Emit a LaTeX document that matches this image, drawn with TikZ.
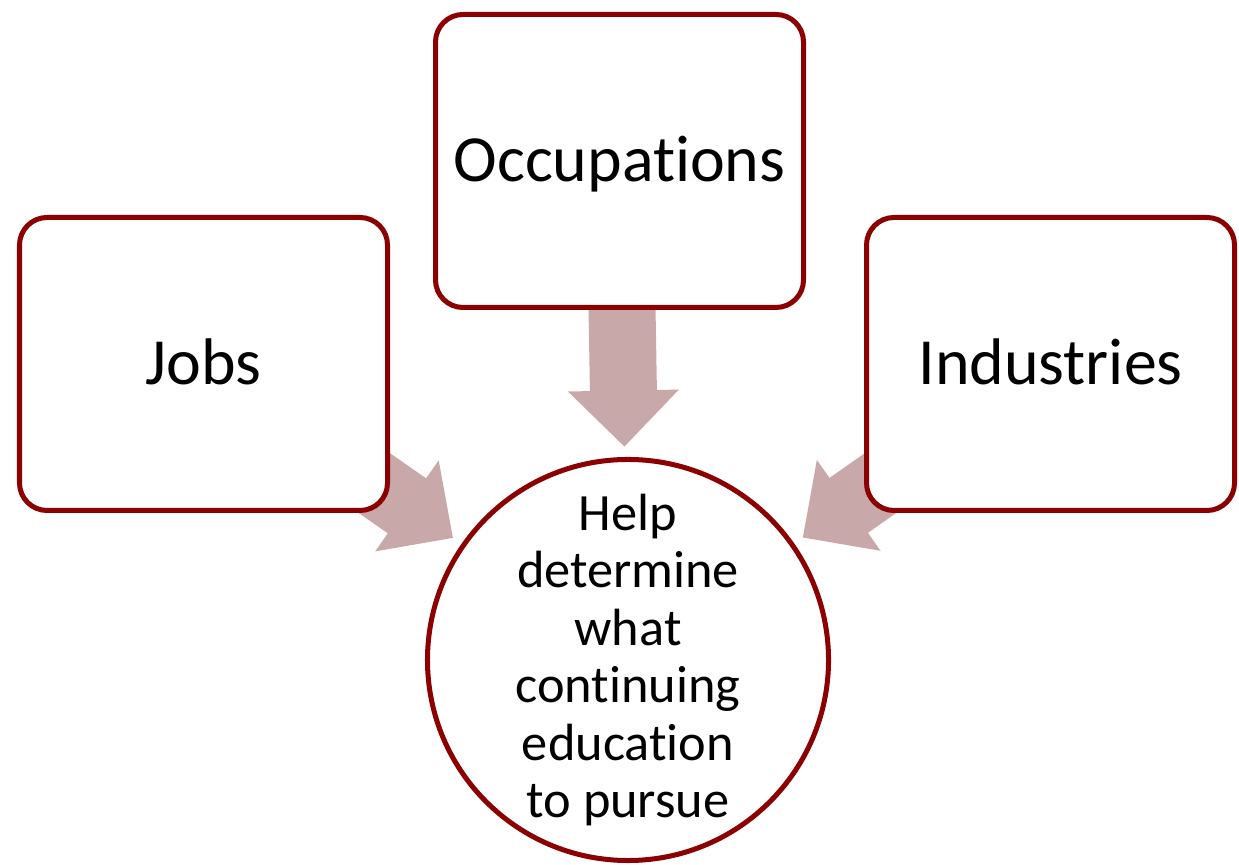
\documentclass[tikz,border=0pt]{standalone}
\usepackage{fontspec}
\setmainfont{Carlito}[RawFeature={-liga;-clig;-calt;-dlig}]
\usetikzlibrary{calc,backgrounds}
\definecolor{boxred}{RGB}{139,0,0}
\definecolor{arrowpink}{RGB}{201,168,169}
\newcommand{\bigarrow}[2]{%
  \coordinate (tip) at ($(#2.center)!4.27cm!(#1.center)$);
  \coordinate (base) at ($(tip)!1.12cm!(#1.center)$);
  \coordinate (tail) at ($(tip)!3.4cm!(#1.center)$);
  \fill[arrowpink] (tip) -- ($(base)!1.11cm!90:(tip)$) -- ($(base)!0.67cm!90:(tip)$)
    -- ($(tail)!0.67cm!90:(tip)$) -- ($(tail)!0.67cm!-90:(tip)$)
    -- ($(base)!0.67cm!-90:(tip)$) -- ($(base)!1.11cm!-90:(tip)$) -- cycle;}
\begin{document}
\begin{tikzpicture}[box/.style={draw=boxred, line width=2.85pt, fill=white,
    rounded corners=0.55cm, minimum width=7.36cm, minimum height=5.86cm,
    font=\fontsize{37.5}{45}\selectfont, text height=30pt, text depth=6.4pt},
  goal/.style={circle, draw=boxred, line width=2.85pt, fill=white,
    minimum size=7.8cm, inner sep=0pt, align=center,
    font=\fontsize{29.8}{32.7}\selectfont}]
    \useasboundingbox (0,0) rectangle (24.78,17.3);
    \node[box] (occ) at (12.39,14.08) {Occupations};
    \node[box] (jobs) at (4.07,10.02) {Jobs};
    \node[box] (ind) at (21.01,10.02) {Industries};
    \node[goal] (help) at (12.56,4.10) {Help\\determine\\what\\continuing\\education\\to pursue};
    \begin{scope}[on background layer]
        \bigarrow{occ}{help}
        \bigarrow{jobs}{help}
        \bigarrow{ind}{help}
    \end{scope}
\end{tikzpicture}
\end{document}
